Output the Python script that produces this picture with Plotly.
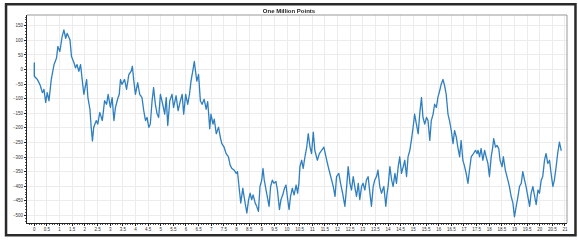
import plotly.graph_objects as go

title_text = "One Million Points"

x_vals = [0.0, 0.0, 0.12, 0.22, 0.32, 0.38, 0.45, 0.51, 0.58, 0.67, 0.78, 0.88, 0.93, 1.01, 1.1, 1.17, 1.24, 1.3, 1.41, 1.47,
          1.57, 1.63, 1.69, 1.76, 1.83, 1.9, 1.96, 2.07, 2.12, 2.2, 2.25, 2.3, 2.35, 2.45, 2.51, 2.59, 2.69, 2.78, 2.86, 2.92,
          3.01, 3.08, 3.15, 3.21, 3.3, 3.36, 3.41, 3.47, 3.57, 3.65, 3.74, 3.83, 3.88, 3.93, 4.0, 4.09, 4.17, 4.26, 4.33, 4.4,
          4.46, 4.53, 4.59, 4.66, 4.72, 4.79, 4.86, 4.92, 4.99, 5.08, 5.16, 5.22, 5.28, 5.36, 5.45, 5.51, 5.61, 5.69, 5.78, 5.85,
          5.91, 5.99, 6.07, 6.14, 6.2, 6.28, 6.33, 6.38, 6.43, 6.5, 6.57, 6.64, 6.72, 6.8, 6.86, 6.9, 6.94, 6.99, 7.07, 7.12,
          7.2, 7.29, 7.36, 7.42, 7.51, 7.59, 7.68, 7.75, 7.82, 7.91, 7.99, 8.04, 8.1, 8.17, 8.25, 8.31, 8.41, 8.48, 8.54, 8.6,
          8.66, 8.74, 8.8, 8.87, 8.93, 9.0, 9.05, 9.1, 9.17, 9.24, 9.29, 9.35, 9.42, 9.48, 9.56, 9.62, 9.7, 9.76, 9.83, 9.9,
          9.96, 10.02, 10.08, 10.14, 10.21, 10.28, 10.36, 10.42, 10.47, 10.51, 10.58, 10.64, 10.71, 10.78, 10.84, 10.91, 10.97, 11.04, 11.1, 11.2,
          11.28, 11.37, 11.46, 11.54, 11.63, 11.73, 11.83, 11.9, 11.96, 12.05, 12.12, 12.2, 12.29, 12.36, 12.42, 12.49, 12.55, 12.62, 12.68, 12.75,
          12.82, 12.88, 12.95, 13.01, 13.08, 13.14, 13.21, 13.28, 13.34, 13.41, 13.47, 13.54, 13.6, 13.67, 13.74, 13.83, 13.91, 13.96, 14.0, 14.07,
          14.14, 14.2, 14.27, 14.33, 14.4, 14.46, 14.53, 14.6, 14.66, 14.73, 14.79, 14.86, 14.92, 14.99, 15.05, 15.12, 15.19, 15.25, 15.32, 15.38,
          15.45, 15.52, 15.58, 15.65, 15.71, 15.78, 15.84, 15.91, 15.97, 16.04, 16.1, 16.17, 16.24, 16.3, 16.37, 16.43, 16.5, 16.57, 16.63, 16.7,
          16.76, 16.83, 16.89, 16.96, 17.03, 17.09, 17.16, 17.22, 17.29, 17.38, 17.46, 17.52, 17.56, 17.62, 17.68, 17.75, 17.82, 17.88, 17.95, 18.01,
          18.08, 18.14, 18.18, 18.25, 18.31, 18.38, 18.43, 18.51, 18.56, 18.64, 18.74, 18.8, 18.87, 18.94, 19.0, 19.07, 19.14, 19.2, 19.27, 19.33,
          19.4, 19.46, 19.53, 19.6, 19.66, 19.73, 19.8, 19.86, 19.93, 19.99, 20.06, 20.12, 20.19, 20.25, 20.32, 20.39, 20.45, 20.52, 20.58, 20.65,
          20.71, 20.78, 20.85]

y_vals = [23, -23, -34, -51, -79, -68, -113, -79, -107, -34, 17, 40, 79, 62, 113, 136, 107, 124, 102, 45,
          23, 6, 17, -6, 17, -40, -85, -34, -96, -136, -198, -245, -198, -175, -187, -147, -175, -107, -119, -85,
          -130, -96, -175, -130, -100, -85, -34, -51, -34, -68, -17, -6, 11, -34, -85, -45, -85, -96, -141, -175,
          -164, -198, -187, -107, -62, -119, -153, -164, -85, -119, -153, -96, -192, -107, -85, -130, -90, -141, -107, -85,
          -153, -85, -119, -85, -40, 0, 28, -6, -40, -17, -107, -119, -102, -136, -110, -153, -203, -153, -187, -170,
          -220, -198, -232, -254, -266, -288, -299, -328, -339, -345, -356, -350, -401, -458, -407, -441, -492, -446, -424, -446,
          -430, -458, -469, -486, -401, -379, -339, -379, -413, -446, -469, -401, -379, -390, -384, -413, -480, -446, -430, -407,
          -396, -441, -480, -435, -407, -430, -396, -424, -390, -333, -311, -339, -299, -266, -220, -266, -288, -215, -277, -311,
          -288, -277, -266, -299, -333, -367, -401, -435, -367, -356, -390, -424, -469, -401, -333, -390, -413, -367, -401, -435,
          -390, -446, -401, -390, -413, -379, -367, -424, -469, -401, -379, -367, -345, -401, -424, -401, -469, -424, -401, -333,
          -379, -401, -356, -390, -333, -299, -356, -333, -311, -367, -299, -277, -243, -198, -153, -187, -220, -153, -96, -164,
          -187, -164, -175, -243, -175, -153, -119, -130, -96, -73, -51, -34, -57, -85, -153, -175, -209, -254, -209, -232,
          -266, -299, -243, -311, -333, -356, -390, -345, -299, -288, -277, -288, -277, -299, -271, -311, -277, -299, -322, -367,
          -299, -266, -237, -266, -260, -271, -311, -333, -299, -345, -379, -401, -435, -458, -505, -469, -435, -401, -390, -350,
          -379, -401, -435, -469, -424, -401, -435, -463, -413, -424, -379, -367, -311, -288, -322, -311, -356, -401, -379, -333,
          -288, -249, -277]

y_tick_vals = [-500, -450, -400, -350, -300, -250, -200, -150, -100, -50, 0, 50, 100, 150]
x_tick_vals = [i * 0.5 for i in range(43)]
x_tick_text = [("%g" % v) for v in x_tick_vals]

W, H = 578, 242
L, R, T, B = 27, 10, 15, 16
pw, ph = W - L - R, H - T - B

def px(xp):
    return (xp - L) / pw

def py(yp):
    return (H - B - yp) / ph

fig = go.Figure()
fig.add_trace(go.Scattergl(x=x_vals, y=y_vals, mode="lines",
                           line=dict(color="#2f7fbf", width=1.3),
                           showlegend=False, hoverinfo="skip"))

tick_font = dict(family="Liberation Sans, Arial, sans-serif", size=4.5, color="#333")
fig.update_layout(
    width=W, height=H,
    margin=dict(l=L, r=R, t=T, b=B, pad=0),
    paper_bgcolor="white", plot_bgcolor="white",
    title=dict(text="<b>" + title_text + "</b>", x=0.5, xanchor="center",
               y=1 - 11 / H, yanchor="middle",
               font=dict(family="Liberation Sans, Arial, sans-serif", size=6, color="#222")),
    xaxis=dict(range=[-0.29, 21.08], tickvals=x_tick_vals, ticktext=x_tick_text,
               showgrid=True, gridcolor="#ececec", gridwidth=1,
               zeroline=False, showline=True, linecolor="#222", linewidth=1,
               ticks="outside", ticklen=2, tickcolor="#222", tickfont=tick_font,
               minor=dict(dtick=0.1, ticks="outside", ticklen=1, tickcolor="#555", showgrid=False)),
    yaxis=dict(range=[-526, 187], tickvals=y_tick_vals,
               showgrid=True, gridcolor="#ececec", gridwidth=1,
               zeroline=False, showline=True, linecolor="#222", linewidth=1,
               ticks="outside", ticklen=2, tickcolor="#222", tickfont=tick_font,
               minor=dict(dtick=10, ticks="outside", ticklen=1, tickcolor="#555", showgrid=False)),
)

# plot-area border (top/right gray)
fig.add_shape(type="line", xref="paper", yref="paper", x0=0, x1=1, y0=1, y1=1,
              line=dict(color="#999", width=1))
fig.add_shape(type="line", xref="paper", yref="paper", x0=1, x1=1, y0=0, y1=1,
              line=dict(color="#999", width=1))
# outer frame
fig.add_shape(type="rect", xref="paper", yref="paper",
              x0=px(6), x1=px(576.5), y0=py(238.5), y1=py(4),
              line=dict(color="#2a2a2a", width=2.5), layer="above")

fig.write_html("out.html", config={"displayModeBar": False},
               post_script="document.body.style.margin='0';document.body.style.overflow='hidden';")
